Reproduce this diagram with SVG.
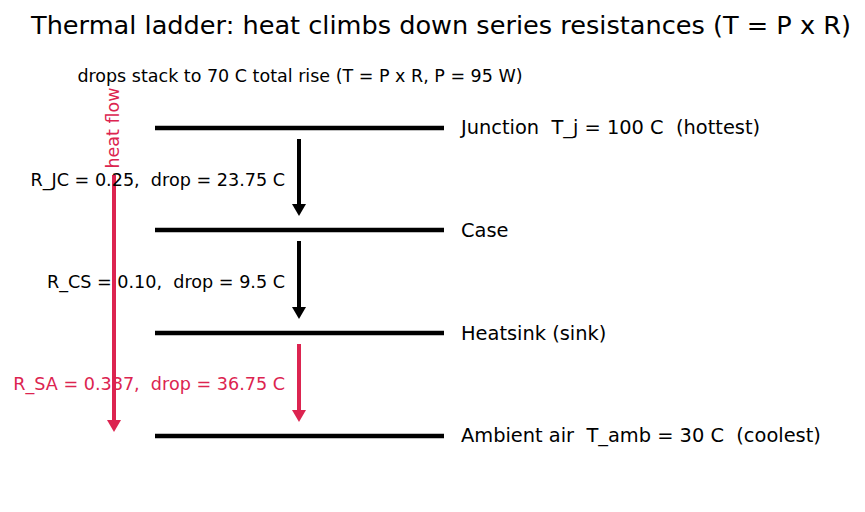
<svg xmlns="http://www.w3.org/2000/svg" width="865" height="512" viewBox="0 0 865 512">
<style>
text{font-family:"DejaVu Sans",sans-serif;fill:#000;white-space:pre}
.rung{stroke:#000;stroke-width:4.5;fill:none}
.lbl{font-size:19.4px}
.rl{font-size:17.6px;text-anchor:end}
.red{fill:#dc2450}
.ab{stroke:#000;stroke-width:4;fill:none}
.ar{stroke:#dc2450;stroke-width:4;fill:none}
</style>
<defs>
<marker id="hb" viewBox="0 0 12 14" refX="2" refY="7" markerWidth="12" markerHeight="14" markerUnits="userSpaceOnUse" orient="auto"><path d="M0,0 L12,7 L0,14 z" fill="#000"/></marker>
<marker id="hr" viewBox="0 0 12 14" refX="2" refY="7" markerWidth="12" markerHeight="14" markerUnits="userSpaceOnUse" orient="auto"><path d="M0,0 L12,7 L0,14 z" fill="#dc2450"/></marker>
</defs>
<rect width="865" height="512" fill="#fff"/>
<text x="441" y="34" font-size="25.6" text-anchor="middle">Thermal ladder: heat climbs down series resistances (T = P x R)</text>
<text x="300" y="82" font-size="17.5" text-anchor="middle">drops stack to 70 C total rise (T = P x R, P = 95 W)</text>
<g id="connectors">
<line class="ar" x1="114" y1="175" x2="114" y2="422" marker-end="url(#hr)"/>
<line class="ab" x1="299" y1="139" x2="299" y2="206" marker-end="url(#hb)"/>
<line class="ab" x1="299" y1="241" x2="299" y2="309" marker-end="url(#hb)"/>
<line class="ar" x1="299" y1="344" x2="299" y2="412" marker-end="url(#hr)"/>
</g>
<text class="red" x="0" y="0" font-size="17.5" text-anchor="middle" transform="translate(119,128) rotate(-90)">heat flow</text>
<g id="junction"><line class="rung" x1="155" y1="128" x2="444" y2="128"/><text class="lbl" x="461" y="134">Junction  T_j = 100 C  (hottest)</text></g>
<g id="case"><line class="rung" x1="155" y1="230" x2="444" y2="230"/><text class="lbl" x="461" y="237">Case</text></g>
<g id="heatsink"><line class="rung" x1="155" y1="333" x2="444" y2="333"/><text class="lbl" x="461" y="340">Heatsink (sink)</text></g>
<g id="ambient"><line class="rung" x1="155" y1="436" x2="444" y2="436"/><text class="lbl" x="461" y="442">Ambient air  T_amb = 30 C  (coolest)</text></g>
<g id="rjc"><text class="rl" x="285" y="186">R_JC = 0.25,  drop = 23.75 C</text></g>
<g id="rcs"><text class="rl" x="285" y="288">R_CS = 0.10,  drop = 9.5 C</text></g>
<g id="rsa"><text class="rl red" x="285" y="390">R_SA = 0.387,  drop = 36.75 C</text></g>
</svg>
